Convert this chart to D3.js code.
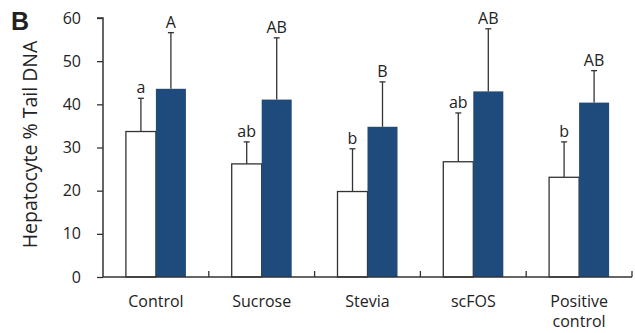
<!DOCTYPE html>
<html>
<head>
<meta charset="utf-8">
<script src="https://cdn.jsdelivr.net/npm/d3@7"></script>
<style>
  body { margin: 0; background: #fff; }
  text { font-family: "Open Sans", "Noto Sans", sans-serif; fill: #222; }
</style>
</head>
<body>
<div id="chart"></div>
<script>
// data
const categories = ["Control", "Sucrose", "Stevia", "scFOS", "Positive\ncontrol"];
const whiteMeans = [33.7, 26.2, 19.8, 26.7, 23.1];
const whiteErrTop = [41.4, 31.3, 29.7, 38.0, 31.3];
const whiteLetters = ["a", "ab", "b", "ab", "b"];
const blueMeans = [43.6, 41.1, 34.8, 43.0, 40.4];
const blueErrTop = [56.6, 55.4, 45.2, 57.5, 47.8];
const blueLetters = ["A", "AB", "B", "AB", "AB"];
const yTicks = [0, 10, 20, 30, 40, 50, 60];

const width = 635, height = 333;
const margin = {top: 18, right: 3, bottom: 56, left: 103};
const axisColor = "#333";

const svg = d3.select("#chart").append("svg")
  .attr("width", width)
  .attr("height", height);

const x = d3.scaleBand()
  .domain(d3.range(categories.length))
  .range([margin.left, width - margin.right])
  .paddingInner(0)
  .paddingOuter(0);

const y = d3.scaleLinear()
  .domain([0, 60])
  .range([height - margin.bottom, margin.top]);

const barW = 30;

// bars
const groups = svg.append("g")
  .selectAll("g")
  .data(categories.map((c, i) => i))
  .enter().append("g")
    .attr("transform", i => `translate(${x(i) + x.bandwidth() / 2}, 0)`);

const series = [
  {means: whiteMeans, errs: whiteErrTop, letters: whiteLetters, fill: "#fff", stroke: axisColor, off: -barW},
  {means: blueMeans, errs: blueErrTop, letters: blueLetters, fill: "#1f4a7c", stroke: "none", off: 0}
];

series.forEach(s => {
  // error bars (upper only)
  groups.append("line")
    .attr("x1", s.off + barW / 2).attr("x2", s.off + barW / 2)
    .attr("y1", i => y(s.means[i]))
    .attr("y2", i => y(s.errs[i]))
    .attr("stroke", axisColor).attr("stroke-width", 1.3);
  groups.append("line")
    .attr("x1", s.off + barW / 2 - 3).attr("x2", s.off + barW / 2 + 3)
    .attr("y1", i => y(s.errs[i]))
    .attr("y2", i => y(s.errs[i]))
    .attr("stroke", axisColor).attr("stroke-width", 1.3);
  groups.append("rect")
    .attr("x", s.off)
    .attr("width", barW)
    .attr("y", i => y(s.means[i]))
    .attr("height", i => y(0) - y(s.means[i]))
    .attr("fill", s.fill)
    .attr("stroke", s.stroke)
    .attr("stroke-width", 1.3);
  groups.append("text")
    .attr("x", s.off + barW / 2)
    .attr("y", i => y(s.errs[i]) - 5)
    .attr("text-anchor", "middle")
    .style("font-size", "16px")
    .text(i => s.letters[i]);
});

// y axis
const yAxis = d3.axisLeft(y)
  .tickValues(yTicks)
  .tickSize(6)
  .tickPadding(16);

svg.append("g")
    .attr("transform", `translate(${margin.left}, 0)`)
    .call(yAxis)
    .call(g => g.select(".domain").attr("d", `M-6,${y(60)}H0V${y(0)}`).attr("stroke", axisColor).attr("stroke-width", 1.5))
    .call(g => g.selectAll(".tick line").attr("stroke", axisColor).attr("stroke-width", 1.3))
    .call(g => g.selectAll(".tick text").style("font-size", "16px").style("font-family", null).attr("fill", "#222"));

// x axis, ticks point inward at the group borders
const xEdges = d3.range(categories.length).map(i => x(i) + x.bandwidth());
svg.append("line")
  .attr("x1", margin.left).attr("x2", width - margin.right)
  .attr("y1", y(0)).attr("y2", y(0))
  .attr("stroke", axisColor).attr("stroke-width", 1.5);
svg.append("g").selectAll("line")
  .data(xEdges)
  .enter().append("line")
    .attr("x1", d => d).attr("x2", d => d)
    .attr("y1", y(0)).attr("y2", y(0) - 6)
    .attr("stroke", axisColor).attr("stroke-width", 1.3);

svg.append("g").selectAll("text")
  .data(categories)
  .enter().append("text")
    .attr("x", (d, i) => x(i) + x.bandwidth() / 2)
    .attr("y", y(0) + 30)
    .attr("text-anchor", "middle")
    .style("font-size", "16px")
    .each(function(d) {
      d.split("\n").forEach((line, k) => {
        d3.select(this).append("tspan")
          .attr("x", d3.select(this).attr("x"))
          .attr("dy", k === 0 ? 0 : 20)
          .text(line);
      });
    });

// axis title
svg.append("text")
  .attr("transform", `translate(37, ${(y(0) + y(60)) / 2 - 3}) rotate(-90)`)
  .attr("text-anchor", "middle")
  .style("font-size", "19.5px")
  .text("Hepatocyte % Tail DNA");

// panel letter
svg.append("text")
  .attr("x", 11).attr("y", 30)
  .style("font-family", "'Liberation Sans', Arial, sans-serif")
  .style("font-size", "25px")
  .style("font-weight", "bold")
  .attr("fill", "#000")
  .text("B");
</script>
</body>
</html>
